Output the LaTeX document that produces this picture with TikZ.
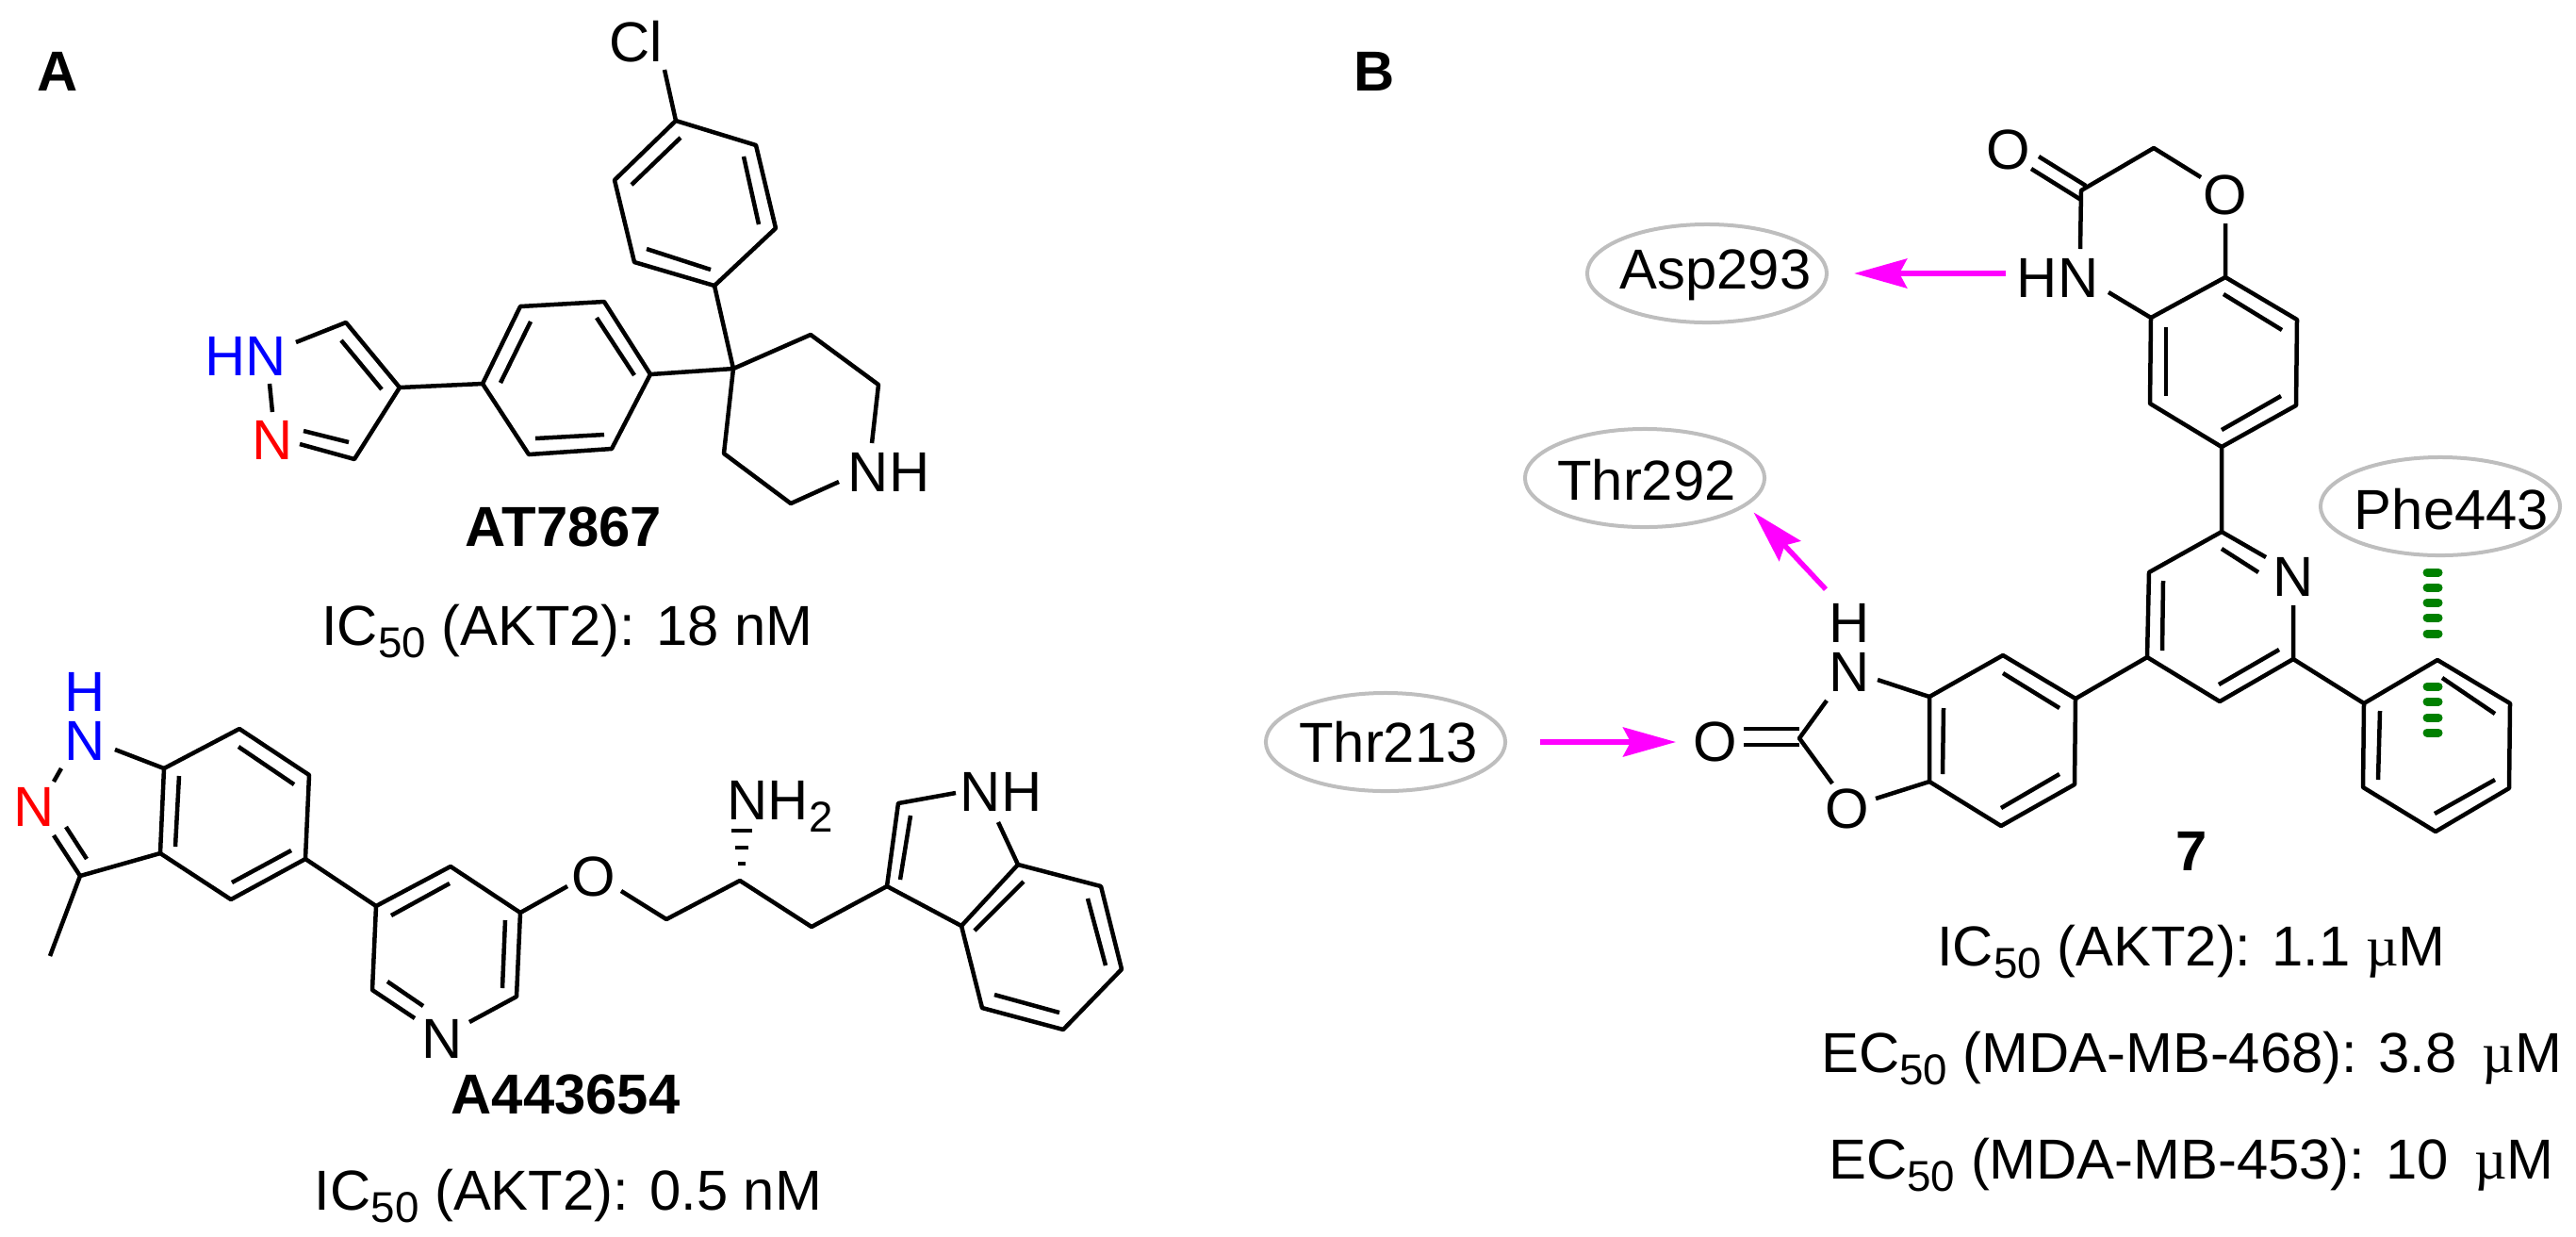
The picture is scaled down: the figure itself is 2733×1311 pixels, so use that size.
\documentclass[tikz,border=0pt]{standalone}
\usepackage{fontspec}
\setmainfont{Liberation Sans}
\newfontfamily\symbfont{Liberation Serif}
\usetikzlibrary{arrows.meta,shapes.geometric}
\newcommand{\subnum}[1]{\raisebox{-3.8pt}{\fontsize{13}{13}\selectfont #1}}
\newcommand{\micro}{{\symbfont µ}}
\definecolor{hbondcol}{RGB}{255,0,255}
\definecolor{pidotcol}{RGB}{0,128,0}
\definecolor{resicol}{RGB}{190,190,190}
\tikzset{
    every node/.style={inner sep=0pt,font=\fontsize{17}{20}\selectfont},
    bond/.style={line width=.045cm,line join=round},
    boldname/.style={font=\fontsize{17}{20}\selectfont\bfseries},
    stacked/.style={align=center,font=\fontsize{17}{14.8}\selectfont},
    resi/.style={ellipse,draw=resicol,line width=.04cm,minimum width=2.54cm,minimum height=1.04cm},
    hbond/.style={draw=hbondcol,line width=.055cm,-{Stealth[length=.56cm,width=.31cm,inset=.08cm,fill=hbondcol]}},
    pidot/.style={draw=pidotcol,line width=.09cm,line cap=round},
}
\begin{document}
\begin{tikzpicture}[x=.01cm,y=-.01cm]
    \useasboundingbox (0,0) rectangle (2733,1311);
    %% panel letters
    \node[boldname] (panela) at (61,76) {A};
    \node[boldname] (panelb) at (1458,76) {B};
    %% AT7867
    \node (cl) at (675,44) {Cl};
    \node (nhpip) at (943,501) {NH};
    \node[text=blue] (hnpyr) at (261,378) {HN};
    \node[text=red] (npyr) at (289,467) {N};
    \foreach \n/\x/\y in {clend/705/74,a1/717/128,a2/802/154,a3/823/242,a4/758/303,a5/673/278,a6/652/191,
        ai1/722/146,ai2/670/196,ai3/789/166,ai4/805/238,ai5/754/286,ai6/686/264,
        q/778/391,p1/860/355,p2/932/408,p3/925/470,p4/890/511,p5/839/534,p6/768/481,
        b1/690/397,b2/641/320,b3/552/325,b4/512/407,b5/561/482,b6/649/476,
        bi1/633/337,bi2/673/398,bi3/563/341,bi4/531/406,bi5/568/465,bi6/641/461,
        z1/424/411,z2/367/342,z3/314/363,z4/376/487,z5/318/471,
        zi1/362/361,zi2/405/413,zi3/322/457,zi4/370/469,zn1/286/407,zn2/289/437}
        \coordinate (\n) at (\x,\y);
    \draw[bond] (clend) -- (a1) -- (a2) -- (a3) -- (a4) -- (a5) -- (a6) -- (a1);
    \draw[bond] (ai1) -- (ai2);
    \draw[bond] (ai3) -- (ai4);
    \draw[bond] (ai5) -- (ai6);
    \draw[bond] (a4) -- (q) -- (p1) -- (p2) -- (p3);
    \draw[bond] (p4) -- (p5) -- (p6) -- (q);
    \draw[bond] (q) -- (b1) -- (b2) -- (b3) -- (b4) -- (b5) -- (b6) -- (b1);
    \draw[bond] (bi1) -- (bi2);
    \draw[bond] (bi3) -- (bi4);
    \draw[bond] (bi5) -- (bi6);
    \draw[bond] (b4) -- (z1) -- (z2) -- (z3);
    \draw[bond] (z1) -- (z4) -- (z5);
    \draw[bond] (zi1) -- (zi2);
    \draw[bond] (zi3) -- (zi4);
    \draw[bond] (zn1) -- (zn2);
    \node[boldname] (namea) at (598,559) {AT7867};
    \node[anchor=base] (icaa) at (602,684) {IC\subnum{50} (AKT2): 18 nM};
    %% A443654
    \node[stacked,text=blue] (nind) at (90,760) {H\\N};
    \node[text=red] (nindb) at (36,856) {N};
    \node (npy) at (469,1102) {N};
    \node (oeth) at (630,930) {O};
    \node[anchor=base west] (nhtwo) at (771,869) {NH\subnum{2}};
    \node (nhtrp) at (1062,840) {NH};
    \foreach \n/\x/\y in {nn1/65/815,nn2/57/829,c3/85/929,me/53/1014,c3n/57/886,c3ia/70/877,c3ib/92/911,
        c7a/174/815,nb/122/795,c7/254/773,c6/328/822,c5/324/911,c4/245/954,c3a/170/905,
        ci1/190/823,ci2/186/898,ci3/253/792,ci4/312/832,ci5/309/902,ci6/246/936,
        y1/399/961,y2/478/919,y3/552/968,y4/548/1057,y5/498/1084,y6/440/1080,y7/395/1050,
        yi1/415/971,yi2/477/937,yi3/533/1048,yi4/536/976,yi5/411/1041,yi6/449/1067,
        oa/602/940,ob/659/945,e1/707/975,e2/785/934,e3/861/983,
        t3/941/940,t2/953/852,t2n/1014/841,tn/1059/872,t7a/1080/917,t3a/1020/982,
        t7/1168/940,t6/1190/1028,t5/1128/1092,t4/1042/1069,
        ti1/955/933,ti2/966/865,ti3/1086/935,ti4/1034/987,ti5/1154/953,ti6/1173/1024,ti7/1124/1074,ti8/1055/1055}
        \coordinate (\n) at (\x,\y);
    \draw[bond] (nn1) -- (nn2);
    \draw[bond] (c3n) -- (c3) -- (me);
    \draw[bond] (c3ia) -- (c3ib);
    \draw[bond] (c3) -- (c3a) -- (c7a) -- (nb);
    \draw[bond] (c7a) -- (c7) -- (c6) -- (c5) -- (c4) -- (c3a);
    \draw[bond] (ci1) -- (ci2);
    \draw[bond] (ci3) -- (ci4);
    \draw[bond] (ci5) -- (ci6);
    \draw[bond] (c5) -- (y1) -- (y2) -- (y3) -- (y4) -- (y5);
    \draw[bond] (y6) -- (y7) -- (y1);
    \draw[bond] (yi1) -- (yi2);
    \draw[bond] (yi3) -- (yi4);
    \draw[bond] (yi5) -- (yi6);
    \draw[bond] (y3) -- (oa);
    \draw[bond] (ob) -- (e1) -- (e2) -- (e3) -- (t3) -- (t2) -- (t2n);
    \draw[bond] (t3) -- (t3a) -- (t7a) -- (tn);
    \draw[bond] (ti1) -- (ti2);
    \draw[bond] (t7a) -- (t7) -- (t6) -- (t5) -- (t4) -- (t3a);
    \draw[bond] (ti3) -- (ti4);
    \draw[bond] (ti5) -- (ti6);
    \draw[bond] (ti7) -- (ti8);
    %% hashed bond to the amine
    \foreach \y/\w in {881/11,899/7,916/4}
        \draw[bond] ({787-\w},\y) -- ({787+\w},\y);
    \node[boldname] (nameb) at (600,1161) {A443654};
    \node[anchor=base] (icab) at (603,1283) {IC\subnum{50} (AKT2): 0.5 nM};
    %% compound 7, atoms
    \node (oketo) at (2131,159) {O};
    \node (oring) at (2361,207) {O};
    \node (hnb) at (2183,295) {HN};
    \node (npyb) at (2433,612) {N};
    \node[stacked] (nlac) at (1962,687) {H\\N};
    \node (ocarb) at (1820,787) {O};
    \node (olac) at (1960,858) {O};
    \foreach \n/\x/\y in {o1a/2163/166,o1b/2213/197,o2a/2155/179,o2b/2208/212,k3/2208/202,k2/2285/157,k2o/2335/188,k3n/2207/264,
        ko/2361/237,k8a/2361/294,k8/2437/339,k7/2436/430,k6/2357/474,k5/2281/428,k4a/2282/337,kn/2237/310,
        ki1/2359/312,ki2/2421/350,ki3/2298/347,ki4/2298/420,ki5/2420/420,ki6/2357/456,
        r2/2357/564,r2n/2404/591,rn/2433/642,r6/2433/699,r5/2355/744,r4/2278/697,r3/2280/607,
        ri1/2295/616,ri2/2294/690,ri3/2396/607,ri4/2357/582,ri5/2418/689,ri6/2354/726,
        l3a/2047/739,l7a/2047/829,l7/2123/876,l6/2201/832,l5/2202/741,l4/2125/695,
        li1/2062/751,li2/2061/821,li3/2185/821,li4/2123/857,li5/2185/751,li6/2125/714,
        ln/1992/721,l2/1909/783,l2n/1938/743,l2o/1944/831,lo/1990/847,
        l2a/1850/773,l2b/1909/773,l2c/1850/790,l2d/1909/790,
        f1/2508/746,f2/2586/700,f3/2663/746,f4/2662/836,f5/2584/882,f6/2507/835,
        fi1/2591/719,fi2/2647/757,fi3/2647/827,fi4/2583/863,fi5/2525/754,fi6/2523/827,
        hnbtail/2128/290,hlactail/1937/625}
        \coordinate (\n) at (\x,\y);
    %% benzoxazinone
    \draw[bond] (o1a) -- (o1b);
    \draw[bond] (o2a) -- (o2b);
    \draw[bond] (k3n) -- (k3) -- (k2) -- (k2o);
    \draw[bond] (ko) -- (k8a) -- (k8) -- (k7) -- (k6) -- (k5) -- (k4a) -- (k8a);
    \draw[bond] (k4a) -- (kn);
    \draw[bond] (ki1) -- (ki2);
    \draw[bond] (ki3) -- (ki4);
    \draw[bond] (ki5) -- (ki6);
    %% central pyridine
    \draw[bond] (k6) -- (r2) -- (r2n);
    \draw[bond] (rn) -- (r6) -- (r5) -- (r4) -- (r3) -- (r2);
    \draw[bond] (ri1) -- (ri2);
    \draw[bond] (ri3) -- (ri4);
    \draw[bond] (ri5) -- (ri6);
    %% benzoxazolone
    \draw[bond] (r4) -- (l5) -- (l4) -- (l3a) -- (l7a) -- (l7) -- (l6) -- (l5);
    \draw[bond] (li1) -- (li2);
    \draw[bond] (li3) -- (li4);
    \draw[bond] (li5) -- (li6);
    \draw[bond] (ln) -- (l3a);
    \draw[bond] (lo) -- (l7a);
    \draw[bond] (l2n) -- (l2) -- (l2o);
    \draw[bond] (l2a) -- (l2b);
    \draw[bond] (l2c) -- (l2d);
    %% phenyl
    \draw[bond] (r6) -- (f1) -- (f2) -- (f3) -- (f4) -- (f5) -- (f6) -- (f1);
    \draw[bond] (fi1) -- (fi2);
    \draw[bond] (fi3) -- (fi4);
    \draw[bond] (fi5) -- (fi6);
    %% residues
    \node[resi] (asp) at (1811,290) {};
    \node (asptext) at (1820,292) {Asp293};
    \node[resi] (thrb) at (1745,507) {};
    \node (thrbtext) at (1747,509) {Thr292};
    \node[resi] (thra) at (1470,787) {};
    \node (thratext) at (1473,787) {Thr213};
    \node[resi] (phe) at (2589,537) {};
    \node (phetext) at (2601,540) {Phe443};
    %% contacts
    \draw[hbond,shorten >=.27cm] (hnbtail) -- (asp);
    \draw[hbond,shorten >=.1cm] (hlactail) -- (thrb.-15);
    \draw[hbond,shorten <=.35cm,shorten >=.18cm] (thra) -- (ocarb);
    \foreach \y in {607,623,639,655,672,728,744,761,777}
        \draw[pidot] (2575,\y) -- (2587,\y);
    %% labels
    \node[boldname] (namec) at (2325,903) {7};
    \node[anchor=base] (icc) at (2325,1024) {IC\subnum{50} (AKT2): 1.1 \micro M};
    \node[anchor=base] (ecc) at (2325,1137) {EC\subnum{50} (MDA-MB-468): 3.8\kern3pt{} \micro M};
    \node[anchor=base] (ecd) at (2325,1250) {EC\subnum{50} (MDA-MB-453): 10\kern3pt{} \micro M};
\end{tikzpicture}
\end{document}
